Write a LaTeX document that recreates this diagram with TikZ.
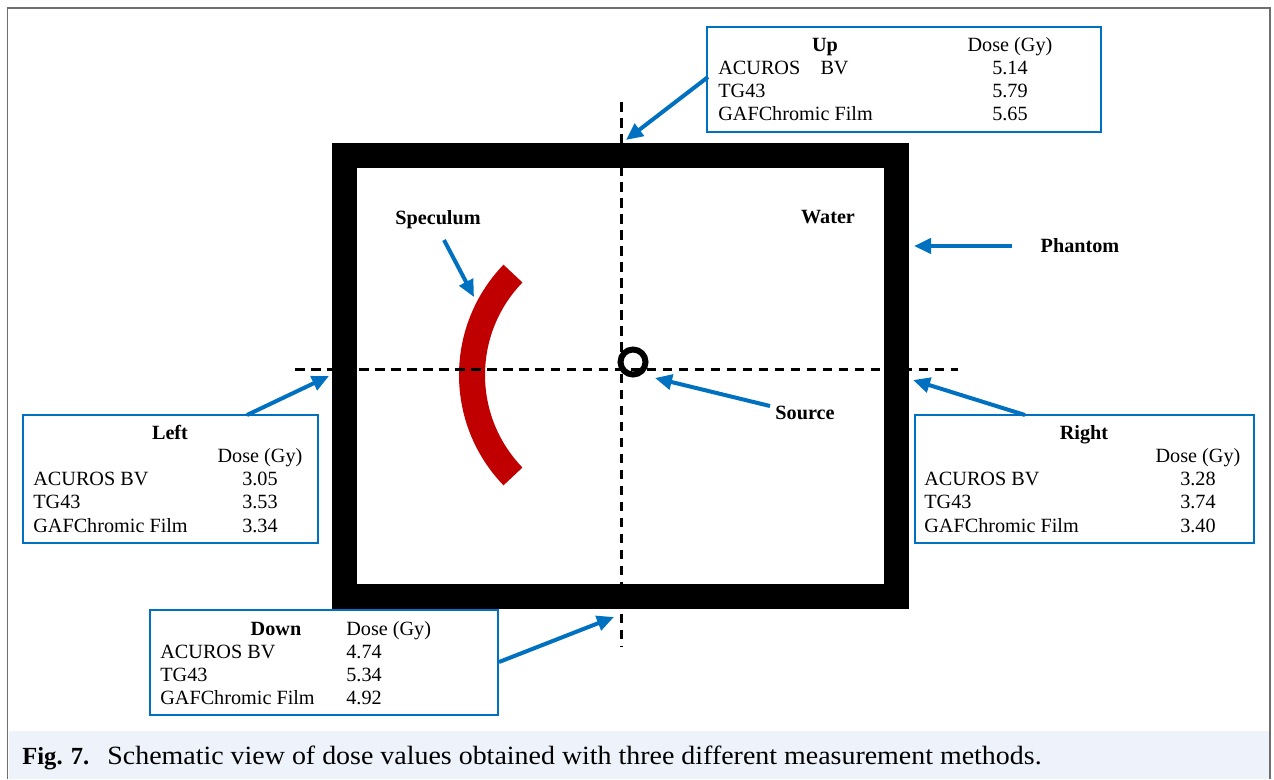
\documentclass[tikz,border=0pt]{standalone}
\usepackage{fontspec}
\setmainfont{Liberation Serif}
\newfontfamily\capfont{Liberation Serif}[FakeStretch=1.06]
\usepackage{tikz}
\usetikzlibrary{arrows.meta}
\definecolor{arrowblue}{RGB}{0,112,192}
\definecolor{specred}{RGB}{192,0,0}
\definecolor{capbg}{RGB}{238,242,250}
\definecolor{framegray}{RGB}{110,110,110}
\newcommand\bt[1]{\textbf{#1}}

\begin{document}
\begin{tikzpicture}[x=0.02cm, y=-0.02cm,
    every node/.style={font=\fontsize{11.5}{13}\selectfont, inner sep=0pt},
    box/.style={draw=arrowblue, line width=0.04cm, fill=white},
    pointer/.style={draw=arrowblue, line width=0.08cm, -{Triangle[length=0.34cm,width=0.3cm]}},
    crossline/.style={line width=0.06cm, dash pattern=on 5.5pt off 3.6pt}]
  \useasboundingbox (0,0) rectangle (1274,779);
  % figure frame and caption
  \fill[capbg] (8.5,731) rectangle (1268.5,779);
  \draw[framegray, line width=0.04cm] (7.5,779) -- (7.5,7.5) -- (1269.5,7.5) -- (1269.5,779);
  \node[anchor=base west, font=\fontsize{14}{17}\selectfont] (fig) at (22,764) {\bt{Fig. 7.}};
  \node[anchor=base west, font=\capfont\fontsize{15}{17}\selectfont] (cap) at (107,764)
    {Schematic view of dose values obtained with three different measurement methods.};
  % phantom
  \draw[line width=0.5cm] (344.5,155.5) rectangle (896.5,596.5);
  \draw[specred, line width=0.52cm] (618,375) ++(136:146) arc[start angle=136, end angle=224, radius=146];
  \draw[crossline] (621,102) -- (621,647);
  \draw[crossline] (295,369) -- (958,369);
  \draw[line width=0.12cm] (633,362) circle[radius=12.5];
  % labels
  \node (water) at (828,217) {\bt{Water}};
  \node (speculum) at (438,220) {\bt{Speculum}};
  \node (phantom) at (1080,246) {\bt{Phantom}};
  \node (source) at (805,413) {\bt{Source}};
  \coordinate (spectip) at (474,297);
  \coordinate (phantip) at (914,246);
  \coordinate (srctip) at (655,378);
  \draw[pointer] (444,240) -- (spectip);
  \draw[pointer] (1012,246) -- (phantip);
  \draw[pointer] (770,406) -- (srctip);
  % up
  \node[box, minimum width=7.88cm, minimum height=2.1cm] (upbox) at (904,79.5) {};
  \node[anchor=base] (uph) at (825,51) {\bt{Up}};
  \node[anchor=base] (upd) at (1010,51) {Dose (Gy)};
  \node[anchor=base west] (upa) at (718,74) {ACUROS\quad BV};
  \node[anchor=base west] (upt) at (718,97) {TG43};
  \node[anchor=base west] (upg) at (718,120) {GAFChromic Film};
  \node[anchor=base] (upv1) at (1010,74) {5.14};
  \node[anchor=base] (upv2) at (1010,97) {5.79};
  \node[anchor=base] (upv3) at (1010,120) {5.65};
  \coordinate (upfoot) at (708,77);
  \coordinate (uptip) at (626,140);
  \draw[pointer] (upfoot) -- (uptip);
  % left
  \node[box, minimum width=5.9cm, minimum height=2.56cm] (leftbox) at (170.5,479) {};
  \node[anchor=base] (lefth) at (170,439) {\bt{Left}};
  \node[anchor=base] (leftd) at (260,462) {Dose (Gy)};
  \node[anchor=base west] (lefta) at (33,485) {ACUROS BV};
  \node[anchor=base west] (leftt) at (33,508) {TG43};
  \node[anchor=base west] (leftg) at (33,532) {GAFChromic Film};
  \node[anchor=base] (leftv1) at (260,485) {3.05};
  \node[anchor=base] (leftv2) at (260,508) {3.53};
  \node[anchor=base] (leftv3) at (260,532) {3.34};
  \coordinate (leftfoot) at (247,415);
  \coordinate (lefttip) at (329,376);
  \draw[pointer] (leftfoot) -- (lefttip);
  % right
  \node[box, minimum width=6.78cm, minimum height=2.56cm] (rightbox) at (1084.5,479) {};
  \node[anchor=base] (righth) at (1084,439) {\bt{Right}};
  \node[anchor=base] (rightd) at (1198,462) {Dose (Gy)};
  \node[anchor=base west] (righta) at (924,485) {ACUROS BV};
  \node[anchor=base west] (rightt) at (924,508) {TG43};
  \node[anchor=base west] (rightg) at (924,532) {GAFChromic Film};
  \node[anchor=base] (rightv1) at (1198,485) {3.28};
  \node[anchor=base] (rightv2) at (1198,508) {3.74};
  \node[anchor=base] (rightv3) at (1198,532) {3.40};
  \coordinate (rightfoot) at (1025,415);
  \coordinate (righttip) at (913,380);
  \draw[pointer] (rightfoot) -- (righttip);
  % down
  \node[box, minimum width=6.96cm, minimum height=2.1cm] (downbox) at (324,662.5) {};
  \node[anchor=base] (downh) at (276,635) {\bt{Down}};
  \node[anchor=base west] (downd) at (346,635) {Dose (Gy)};
  \node[anchor=base west] (downa) at (160,658) {ACUROS BV};
  \node[anchor=base west] (downt) at (160,681) {TG43};
  \node[anchor=base west] (downg) at (160,704) {GAFChromic Film};
  \node[anchor=base west] (downv1) at (346,658) {4.74};
  \node[anchor=base west] (downv2) at (346,681) {5.34};
  \node[anchor=base west] (downv3) at (346,704) {4.92};
  \coordinate (downfoot) at (499,662);
  \coordinate (downtip) at (614,617);
  \draw[pointer] (downfoot) -- (downtip);
\end{tikzpicture}
\end{document}
